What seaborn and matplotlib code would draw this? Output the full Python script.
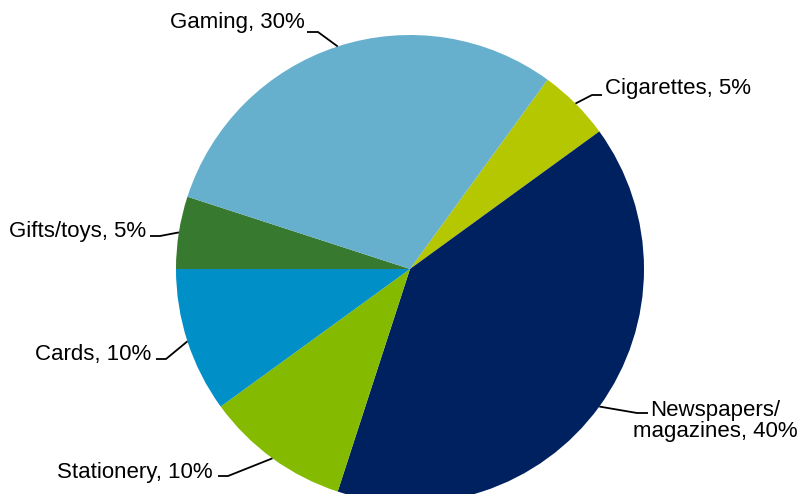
import numpy as np
import matplotlib
matplotlib.use("Agg")
import matplotlib.pyplot as plt
import seaborn as sns

# Sales mix by category (share of total, %)
categories = ["Cigarettes", "Newspapers/\nmagazines", "Stationery", "Cards", "Gifts/toys", "Gaming"]
shares = [5, 40, 10, 10, 5, 30]
hex_colors = ["#B5C700", "#00215F", "#84BB00", "#008FC6", "#36792F", "#66B0CE"]

sns.set_theme(style="white")
plt.rcParams["font.family"] = ["Liberation Sans", "DejaVu Sans"]
palette = sns.color_palette(hex_colors)

W, H = 799, 494
fig = plt.figure(figsize=(W / 100, H / 100), dpi=100)
ax = fig.add_axes([0, 0, 1, 1])

# pie centre and radius in pixels, used to lay out the axes
cx, cy, R = 410, 269, 234

wedges, _ = ax.pie(shares, colors=palette, startangle=54, counterclock=False,
                   radius=1.0, center=(0, 0), wedgeprops=dict(linewidth=0))
ax.set_aspect("auto")
ax.set_xlim((0 - cx) / R, (W - cx) / R)
ax.set_ylim((cy - H) / R, cy / R)
ax.axis("off")


def px(x, y):
    return (x - cx) / R, (cy - y) / R


# label anchor (pixel), side the text extends to, and elbow point of the leader
label_layout = {
    "Cigarettes": dict(text=(605, 88), ha="left", elbow=(592, 95), end=(602, 95)),
    "Newspapers/\nmagazines": dict(text=(715, 421), ha="center", elbow=(637, 413), end=(648, 413)),
    "Stationery": dict(text=(213, 472), ha="right", elbow=(228, 476), end=(218, 476)),
    "Cards": dict(text=(151, 354), ha="right", elbow=(166, 359), end=(156, 359)),
    "Gifts/toys": dict(text=(146, 231), ha="right", elbow=(160, 236), end=(150, 236)),
    "Gaming": dict(text=(305, 22), ha="right", elbow=(318, 32), end=(307, 32)),
}

for w, cat, val in zip(wedges, categories, shares):
    lay = label_layout[cat]
    mid = np.deg2rad((w.theta1 + w.theta2) / 2)
    arc = (np.cos(mid), np.sin(mid))
    ex, ey = px(*lay["elbow"])
    nx, ny = px(*lay["end"])
    ax.plot([arc[0], ex, nx], [arc[1], ey, ny], color="black", lw=1.3,
            solid_capstyle="butt")
    tx, ty = px(*lay["text"])
    ax.text(tx, ty, f"{cat}, {val}%", ha=lay["ha"], va="center",
            fontsize=16, color="black", linespacing=1.05,
            multialignment="center")

fig.savefig("out.png", dpi=100, facecolor="white")
